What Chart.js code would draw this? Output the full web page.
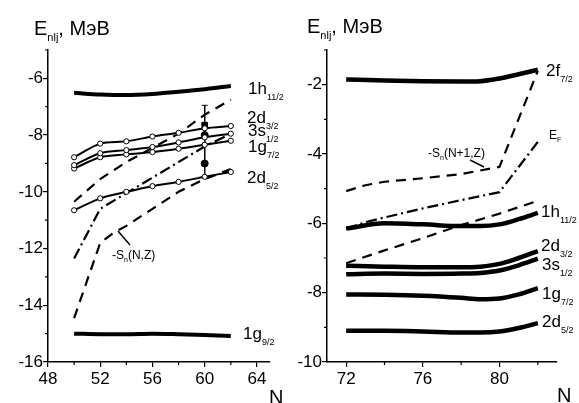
<!DOCTYPE html>
<html>
<head>
<meta charset="utf-8">
<script src="https://cdn.jsdelivr.net/npm/chart.js@4.4.1/dist/chart.umd.min.js"></script>
<style>
  body { margin: 0; background: #fff; }
  #wrap { position: relative; width: 579px; height: 403px; overflow: hidden; font-family: 'Liberation Sans', Arial, sans-serif; color: #000; }
  canvas { position: absolute; top: 0; }
  .lab { position: absolute; font-size: 17px; line-height: 1; white-space: nowrap; }
  .lab sub { font-size: 9px; vertical-align: baseline; position: relative; top: 6px; }
  .sm { font-size: 12px; }
  .sm sub { font-size: 7px; top: 3px; }
  .ttl { position: absolute; font-size: 20px; line-height: 1; white-space: nowrap; }
  .ttl sub { font-size: 11px; vertical-align: baseline; position: relative; top: 6px; }
  svg { position: absolute; left: 0; top: 0; }
</style>
</head>
<body>
<div id="wrap">
  <canvas id="left" width="290" height="403" style="left:0"></canvas>
  <canvas id="right" width="289" height="403" style="left:290px"></canvas>

  <div class="ttl" style="left:34px;top:18px">E<sub>nlj</sub>, МэВ</div>
  <div class="ttl" style="left:307px;top:16px">E<sub>nlj</sub>, МэВ</div>
  <div class="ttl" style="left:269px;top:387px">N</div>
  <div class="ttl" style="left:557px;top:385px">N</div>

  <div class="lab" style="left:248px;top:80px">1h<sub>11/2</sub></div>
  <div class="lab" style="left:247px;top:109px">2d<sub>3/2</sub></div>
  <div class="lab" style="left:248px;top:122px">3s<sub>1/2</sub></div>
  <div class="lab" style="left:248px;top:138px">1g<sub>7/2</sub></div>
  <div class="lab" style="left:247px;top:169px">2d<sub>5/2</sub></div>
  <div class="lab" style="left:243px;top:325px">1g<sub>9/2</sub></div>
  <div class="lab sm" style="left:112px;top:249px">-S<sub>n</sub>(N,Z)</div>

  <div class="lab" style="left:546px;top:62px">2f<sub>7/2</sub></div>
  <div class="lab sm" style="left:549px;top:129px">E<sub>F</sub></div>
  <div class="lab sm" style="left:428px;top:147px">-S<sub>n</sub>(N+1,Z)</div>
  <div class="lab" style="left:541px;top:203px">1h<sub>11/2</sub></div>
  <div class="lab" style="left:541px;top:237px">2d<sub>3/2</sub></div>
  <div class="lab" style="left:542px;top:256px">3s<sub>1/2</sub></div>
  <div class="lab" style="left:542px;top:285px">1g<sub>7/2</sub></div>
  <div class="lab" style="left:542px;top:313px">2d<sub>5/2</sub></div>

  <svg width="579" height="403">
    <line x1="118" y1="231" x2="130" y2="245" stroke="#000" stroke-width="1.5"/>
    <line x1="470" y1="160" x2="484" y2="167" stroke="#000" stroke-width="1.5"/>
  </svg>
</div>
<script>
// ---------- left panel (N = 50..62) ----------
const leftN = [50, 52, 54, 56, 58, 60, 62];
const left1h11 = [-6.51, -6.57, -6.59, -6.55, -6.47, -6.38, -6.27];
const left2d3 = [-8.78, -8.30, -8.22, -8.05, -7.92, -7.76, -7.68];
const left3s1 = [-9.06, -8.64, -8.53, -8.42, -8.26, -8.08, -7.95];
const left1g7 = [-9.18, -8.78, -8.68, -8.60, -8.48, -8.34, -8.20];
const left2d5 = [-10.65, -10.23, -10.00, -9.80, -9.65, -9.47, -9.30];
const left1g9 = [-15.00, -15.02, -15.02, -15.00, -15.02, -15.05, -15.08];
const leftUpperDash = [-10.35, -9.55, -8.95, -8.45, -7.95, -7.28, -6.75];
const leftSnN = [50, 52, 53, 54, 56, 58, 60, 62];
const leftSn = [-14.45, -11.80, -11.45, -11.20, -10.60, -10.00, -9.55, -9.20];
const leftEF = [-12.35, -10.60, -10.05, -9.50, -8.95, -8.40, -7.95];
// experimental points at N = 60
const expN = 60;
const expSquare = [-7.65];
const expCircles = [-8.0, -9.0];
const expErr = [-6.95, -9.5];

// ---------- right panel (N = 72..82) ----------
const rightN = [72, 74, 76, 78, 79, 80, 81, 82];
const right2f7 = [-1.85, -1.88, -1.90, -1.91, -1.90, -1.82, -1.70, -1.57];
const right1h11 = [-6.15, -6.00, -6.03, -6.08, -6.08, -6.03, -5.88, -5.70];
const right2d3 = [-7.22, -7.25, -7.27, -7.27, -7.25, -7.17, -7.00, -6.80];
const right3s1 = [-7.47, -7.45, -7.46, -7.45, -7.43, -7.36, -7.21, -7.02];
const right1g7 = [-8.05, -8.06, -8.09, -8.15, -8.19, -8.17, -8.05, -7.87];
const right2d5 = [-9.10, -9.10, -9.12, -9.15, -9.15, -9.12, -9.02, -8.88];
const rightSnN = [72, 73, 74, 76, 78, 80, 82];
const rightSn = [-5.07, -4.90, -4.80, -4.70, -4.58, -4.37, -1.60];
const rightEF = [-6.15, -5.97, -5.83, -5.57, -5.33, -5.10, -3.65];
const rightLowN = [72, 74, 76, 78, 80, 82];
const rightLowDash = [-7.15, -6.78, -6.43, -6.05, -5.72, -5.35];

// ---------- tick values ----------
const leftXTicks = [48, 52, 56, 60, 64];
const leftXMinor = [50, 54, 58, 62];
const leftYTicks = [-16, -14, -12, -10, -8, -6];
const leftYMinor = [-15, -13, -11, -9, -7, -5];
const rightXTicks = [72, 76, 80];
const rightXMinor = [74, 78, 82];
const rightYTicks = [-10, -8, -6, -4, -2];
const rightYMinor = [-9, -7, -5, -3, -1];

Chart.defaults.font.family = "'Liberation Sans', Arial, sans-serif";
Chart.defaults.color = '#000';

const pts = (xs, ys) => xs.map((x, i) => ({ x, y: ys[i] }));

function solid(xs, ys, w) {
  return { data: pts(xs, ys), borderColor: '#000', borderWidth: w, pointRadius: 0,
           tension: 0.4, cubicInterpolationMode: 'monotone', fill: false };
}
function withCircles(xs, ys) {
  return { data: pts(xs, ys), borderColor: '#000', borderWidth: 2, tension: 0.3,
           pointRadius: 2.6, pointBackgroundColor: '#fff', pointBorderColor: '#000',
           pointBorderWidth: 1, fill: false };
}
function dashed(xs, ys, pattern) {
  return { data: pts(xs, ys), borderColor: '#000', borderWidth: 2.2, pointRadius: 0,
           tension: 0, borderDash: pattern, fill: false };
}

// short minor tick marks between the labelled ones
const minorTicks = {
  id: 'minorTicks',
  afterDraw(chart, args, opts) {
    const ctx = chart.ctx, xs = chart.scales.x, ys = chart.scales.y;
    ctx.save();
    ctx.strokeStyle = '#000';
    ctx.lineWidth = 1.2;
    ctx.beginPath();
    opts.x.forEach(v => { const p = xs.getPixelForValue(v); ctx.moveTo(p, xs.top); ctx.lineTo(p, xs.top + 3); });
    opts.y.forEach(v => { const p = ys.getPixelForValue(v); ctx.moveTo(ys.right, p); ctx.lineTo(ys.right - 3, p); });
    ctx.stroke();
    ctx.restore();
  }
};

function axes(xmin, xmax, xt, ymin, ymax, yt, yWidth) {
  const common = {
    type: 'linear',
    grid: { drawOnChartArea: false, drawTicks: true, tickLength: 5, color: '#000', lineWidth: 1.2 },
    border: { display: true, color: '#000', width: 1.5 },
  };
  return {
    x: { ...common, min: xmin, max: xmax,
         ticks: { font: { size: 17 }, padding: 2, maxRotation: 0, autoSkip: false },
         afterBuildTicks: s => { s.ticks = xt.map(v => ({ value: v })); },
         afterFit: s => { s.height = 41; } },
    y: { ...common, min: ymin, max: ymax,
         ticks: { font: { size: 17 }, padding: 0, autoSkip: false },
         afterBuildTicks: s => { s.ticks = yt.map(v => ({ value: v })); },
         afterFit: s => { s.width = yWidth; } }
  };
}

new Chart(document.getElementById('left'), {
  type: 'line',
  data: { datasets: [
    solid(leftN, left1h11, 4),
    solid(leftN, left1g9, 4),
    withCircles(leftN, left2d3),
    withCircles(leftN, left3s1),
    withCircles(leftN, left1g7),
    withCircles(leftN, left2d5),
    dashed(leftN, leftUpperDash, [10, 7]),
    dashed(leftSnN, leftSn, [10, 7]),
    dashed(leftN, leftEF, [11, 4, 2, 4]),
    { data: expErr.map(y => ({ x: expN, y })), borderColor: '#000', borderWidth: 1,
      pointStyle: 'line', pointRadius: 3, pointBorderWidth: 1, pointBorderColor: '#000', tension: 0 },
    { data: expSquare.map(y => ({ x: expN, y })), showLine: false, pointStyle: 'rect',
      pointRadius: 4, pointBackgroundColor: '#000', pointBorderColor: '#000' },
    { data: expCircles.map(y => ({ x: expN, y })), showLine: false, pointStyle: 'circle',
      pointRadius: 3.5, pointBackgroundColor: '#000', pointBorderColor: '#000' },
  ] },
  options: {
    responsive: false, animation: false, devicePixelRatio: 1,
    layout: { padding: { top: 50, right: 20, left: 0, bottom: 0 } },
    plugins: { legend: { display: false }, tooltip: { enabled: false },
               minorTicks: { x: leftXMinor, y: leftYMinor } },
    scales: axes(48, 65, leftXTicks, -16, -5, leftYTicks, 48)
  },
  plugins: [minorTicks]
});

new Chart(document.getElementById('right'), {
  type: 'line',
  data: { datasets: [
    solid(rightN, right2f7, 4.5),
    solid(rightN, right1h11, 4.5),
    solid(rightN, right2d3, 4.5),
    solid(rightN, right3s1, 4.5),
    solid(rightN, right1g7, 4.5),
    solid(rightN, right2d5, 4.5),
    dashed(rightSnN, rightSn, [10, 7]),
    dashed(rightSnN, rightEF, [11, 4, 2, 4]),
    dashed(rightLowN, rightLowDash, [10, 7]),
  ] },
  options: {
    responsive: false, animation: false, devicePixelRatio: 1,
    layout: { padding: { top: 50, right: 22, left: 0, bottom: 0 } },
    plugins: { legend: { display: false }, tooltip: { enabled: false },
               minorTicks: { x: rightXMinor, y: rightYMinor } },
    scales: axes(71, 83, rightXTicks, -10, -1, rightYTicks, 37)
  },
  plugins: [minorTicks]
});
</script>
</body>
</html>
